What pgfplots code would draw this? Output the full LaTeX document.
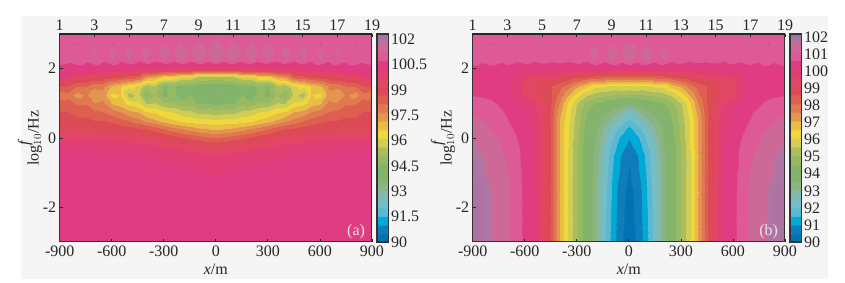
\documentclass[border=0pt]{standalone}
\usepackage{fontspec}
\setmainfont{Liberation Serif}
\usepackage{pgfplots}
\usepackage{pgfplotstable}
\pgfplotsset{compat=1.18}
\pgfplotstableread{
x y z
-900 -3 100.2
-850 -3 100.2
-800 -3 100.2
-750 -3 100.2
-700 -3 100.2
-650 -3 100.2
-600 -3 100.2
-550 -3 100.2
-500 -3 100.2
-450 -3 100.2
-400 -3 100.2
-350 -3 100.2
-300 -3 100.2
-250 -3 100.2
-200 -3 100.2
-150 -3 100.2
-100 -3 100.2
-50 -3 100.2
0 -3 100.2
-900 -1.5 100.2
-850 -1.5 100.2
-800 -1.5 100.2
-750 -1.5 100.2
-700 -1.5 100.2
-650 -1.5 100.2
-600 -1.5 100.2
-550 -1.5 100.2
-500 -1.5 100.2
-450 -1.5 100.2
-400 -1.5 100.2
-350 -1.5 100.2
-300 -1.5 100.2
-250 -1.5 100.2
-200 -1.5 100.2
-150 -1.5 100.2
-100 -1.5 100.2
-50 -1.5 100.2
0 -1.5 100.2
-900 -1 100.2
-850 -1 100.2
-800 -1 100.2
-750 -1 100.2
-700 -1 100.2
-650 -1 100.2
-600 -1 100.2
-550 -1 100.2
-500 -1 100.2
-450 -1 100.2
-400 -1 100.2
-350 -1 100.2
-300 -1 100.15
-250 -1 100.12
-200 -1 100.1
-150 -1 100.05
-100 -1 100.02
-50 -1 99.97
0 -1 99.95
-900 -0.5 100.1
-850 -0.5 100.1
-800 -0.5 100.1
-750 -0.5 100.08
-700 -0.5 100.05
-650 -0.5 100.04
-600 -0.5 100.02
-550 -0.5 100
-500 -0.5 99.98
-450 -0.5 99.95
-400 -0.5 99.93
-350 -0.5 99.9
-300 -0.5 99.85
-250 -0.5 99.8
-200 -0.5 99.75
-150 -0.5 99.7
-100 -0.5 99.6
-50 -0.5 99.5
0 -0.5 99.45
-900 -0.25 99.9
-850 -0.25 99.9
-800 -0.25 99.9
-750 -0.25 99.88
-700 -0.25 99.85
-650 -0.25 99.85
-600 -0.25 99.8
-550 -0.25 99.78
-500 -0.25 99.75
-450 -0.25 99.7
-400 -0.25 99.65
-350 -0.25 99.6
-300 -0.25 99.5
-250 -0.25 99.4
-200 -0.25 99.3
-150 -0.25 99.2
-100 -0.25 99.1
-50 -0.25 99.05
0 -0.25 99
-900 0 99.45
-850 0 99.45
-800 0 99.45
-750 0 99.4
-700 0 99.4
-650 0 99.4
-600 0 99.35
-550 0 99.3
-500 0 99.25
-450 0 99.2
-400 0 99.1
-350 0 99
-300 0 98.9
-250 0 98.8
-200 0 98.6
-150 0 98.4
-100 0 98.3
-50 0 98.1
0 0 98
-900 0.25 98.95
-850 0.25 98.95
-800 0.25 98.9
-750 0.25 98.9
-700 0.25 98.85
-650 0.25 98.8
-600 0.25 98.8
-550 0.25 98.75
-500 0.25 98.7
-450 0.25 98.6
-400 0.25 98.5
-350 0.25 98.3
-300 0.25 98
-250 0.25 97.7
-200 0.25 97.5
-150 0.25 97.3
-100 0.25 97.1
-50 0.25 97
0 0.25 96.9
-900 0.5 98.7
-850 0.5 98.7
-800 0.5 98.6
-750 0.5 98.6
-700 0.5 98.5
-650 0.5 98.5
-600 0.5 98.4
-550 0.5 98.2
-500 0.5 98
-450 0.5 97.7
-400 0.5 97.4
-350 0.5 97.1
-300 0.5 96.8
-250 0.5 96.6
-200 0.5 96.4
-150 0.5 96.3
-100 0.5 96.2
-50 0.5 96.2
0 0.5 96.1
-900 0.75 98.5
-850 0.75 98.5
-800 0.75 98.3
-750 0.75 98.3
-700 0.75 98.1
-650 0.75 98
-600 0.75 97.7
-550 0.75 97.5
-500 0.75 97.1
-450 0.75 97
-400 0.75 96.5
-350 0.75 96.4
-300 0.75 96.1
-250 0.75 96
-200 0.75 95.7
-150 0.75 95.6
-100 0.75 95.3
-50 0.75 95.3
0 0.75 95.2
-900 1 98.2
-850 1 98.2
-800 1 97.9
-750 1 97.9
-700 1 97.5
-650 1 97.6
-600 1 96.9
-550 1 96.7
-500 1 96.3
-450 1 96.1
-400 1 95.4
-350 1 95.5
-300 1 95
-250 1 95
-200 1 94.7
-150 1 94.8
-100 1 94.4
-50 1 94.5
0 1 94.2
-900 1.25 97.6
-850 1.25 97.8
-800 1.25 97.2
-750 1.25 97.6
-700 1.25 97
-650 1.25 97.3
-600 1.25 96.3
-550 1.25 96.5
-500 1.25 95.2
-450 1.25 95.7
-400 1.25 94.5
-350 1.25 95
-300 1.25 94.3
-250 1.25 94.7
-200 1.25 94.2
-150 1.25 94.5
-100 1.25 93.7
-50 1.25 94.3
0 1.25 93.4
-900 1.5 98.5
-850 1.5 98.5
-800 1.5 98
-750 1.5 98
-700 1.5 97.6
-650 1.5 97.6
-600 1.5 96.9
-550 1.5 96.6
-500 1.5 96.2
-450 1.5 95.9
-400 1.5 95.2
-350 1.5 95.3
-300 1.5 94.4
-250 1.5 94.6
-200 1.5 94.3
-150 1.5 94.4
-100 1.5 94.1
-50 1.5 94.2
0 1.5 94
-900 1.75 99.7
-850 1.75 99.6
-800 1.75 99.3
-750 1.75 99.2
-700 1.75 99
-650 1.75 98.9
-600 1.75 98.7
-550 1.75 98.6
-500 1.75 98.3
-450 1.75 98.2
-400 1.75 97.2
-350 1.75 97
-300 1.75 96.4
-250 1.75 96.4
-200 1.75 95.9
-150 1.75 95.8
-100 1.75 95.4
-50 1.75 95.4
0 1.75 95.2
-900 2 100.2
-850 2 100.2
-800 2 100.1
-750 2 100.1
-700 2 100
-650 2 100
-600 2 99.9
-550 2 99.9
-500 2 99.7
-450 2 99.7
-400 2 99.6
-350 2 99.6
-300 2 99.5
-250 2 99.5
-200 2 99.4
-150 2 99.4
-100 2 99.4
-50 2 99.4
0 2 99.4
-900 2.25 100.7
-850 2.25 100.6
-800 2.25 100.9
-750 2.25 100.6
-700 2.25 100.9
-650 2.25 100.6
-600 2.25 101
-550 2.25 100.6
-500 2.25 101
-450 2.25 100.6
-400 2.25 101
-350 2.25 100.6
-300 2.25 101
-250 2.25 100.7
-200 2.25 101.1
-150 2.25 100.7
-100 2.25 101.15
-50 2.25 100.7
0 2.25 101.2
-900 2.5 100.8
-850 2.5 100.8
-800 2.5 101
-750 2.5 100.8
-700 2.5 101.05
-650 2.5 100.8
-600 2.5 101.1
-550 2.5 100.8
-500 2.5 101.15
-450 2.5 100.8
-400 2.5 101.2
-350 2.5 100.85
-300 2.5 101.25
-250 2.5 100.85
-200 2.5 101.3
-150 2.5 100.9
-100 2.5 101.45
-50 2.5 101
0 2.5 101.55
-900 2.75 100.7
-850 2.75 100.7
-800 2.75 100.45
-750 2.75 100.7
-700 2.75 100.6
-650 2.75 100.7
-600 2.75 100.45
-550 2.75 100.7
-500 2.75 100.8
-450 2.75 100.7
-400 2.75 100.8
-350 2.75 100.7
-300 2.75 100.9
-250 2.75 100.7
-200 2.75 101
-150 2.75 100.7
-100 2.75 101.05
-50 2.75 100.7
0 2.75 101.1
-900 3 100.8
-850 3 100.8
-800 3 100.8
-750 3 100.8
-700 3 100.8
-650 3 100.8
-600 3 100.8
-550 3 100.8
-500 3 100.8
-450 3 100.8
-400 3 100.8
-350 3 100.8
-300 3 100.8
-250 3 100.8
-200 3 100.8
-150 3 100.8
-100 3 100.8
-50 3 100.8
0 3 100.8
}\dataA
\pgfplotstableread{
x y z
-900 -3 101.8
-850 -3 101.7
-800 -3 101.55
-750 -3 101.2
-700 -3 101.05
-650 -3 100.8
-600 -3 100.3
-550 -3 100.05
-500 -3 99.3
-450 -3 98.4
-400 -3 97
-350 -3 95.9
-300 -3 95
-250 -3 94.2
-200 -3 93.3
-150 -3 92.2
-100 -3 91.3
-50 -3 90.6
0 -3 90.2
-900 -1.5 101.8
-850 -1.5 101.7
-800 -1.5 101.5
-750 -1.5 101.2
-700 -1.5 101.05
-650 -1.5 100.8
-600 -1.5 100.3
-550 -1.5 100.05
-500 -1.5 99.3
-450 -1.5 98.4
-400 -1.5 97
-350 -1.5 95.9
-300 -1.5 95
-250 -1.5 94.2
-200 -1.5 93.3
-150 -1.5 92.3
-100 -1.5 91.4
-50 -1.5 90.7
0 -1.5 90.3
-900 -1 101.7
-850 -1 101.6
-800 -1 101.3
-750 -1 101.15
-700 -1 101
-650 -1 100.7
-600 -1 100.3
-550 -1 100
-500 -1 99.3
-450 -1 98.4
-400 -1 97
-350 -1 95.9
-300 -1 95
-250 -1 94.2
-200 -1 93.3
-150 -1 92.4
-100 -1 91.5
-50 -1 90.9
0 -1 90.4
-900 -0.5 101.6
-850 -0.5 101.5
-800 -0.5 101.2
-750 -0.5 101.1
-700 -0.5 100.9
-650 -0.5 100.6
-600 -0.5 100.3
-550 -0.5 100
-500 -0.5 99.3
-450 -0.5 98.4
-400 -0.5 97
-350 -0.5 95.9
-300 -0.5 95
-250 -0.5 94.2
-200 -0.5 93.4
-150 -0.5 92.5
-100 -0.5 91.6
-50 -0.5 91
0 -0.5 90.6
-900 -0.25 101.55
-850 -0.25 101.4
-800 -0.25 101.15
-750 -0.25 101.05
-700 -0.25 100.8
-650 -0.25 100.6
-600 -0.25 100.25
-550 -0.25 100
-500 -0.25 99.3
-450 -0.25 98.4
-400 -0.25 97
-350 -0.25 96
-300 -0.25 95
-250 -0.25 94.2
-200 -0.25 93.5
-150 -0.25 92.6
-100 -0.25 91.8
-50 -0.25 91.2
0 -0.25 90.8
-900 0 101.45
-850 0 101.3
-800 0 101.1
-750 0 100.95
-700 0 100.7
-650 0 100.5
-600 0 100.2
-550 0 99.95
-500 0 99.3
-450 0 98.4
-400 0 97
-350 0 96
-300 0 95.1
-250 0 94.3
-200 0 93.6
-150 0 92.8
-100 0 92
-50 0 91.4
0 0 91
-900 0.25 101.2
-850 0.25 101.15
-800 0.25 101
-750 0.25 100.85
-700 0.25 100.6
-650 0.25 100.4
-600 0.25 100.1
-550 0.25 99.9
-500 0.25 99.3
-450 0.25 98.4
-400 0.25 97
-350 0.25 96
-300 0.25 95.1
-250 0.25 94.4
-200 0.25 93.7
-150 0.25 93
-100 0.25 92.3
-50 0.25 91.8
0 0.25 91.3
-900 0.5 101.05
-850 0.5 101
-800 0.5 100.9
-750 0.5 100.7
-700 0.5 100.5
-650 0.5 100.3
-600 0.5 100.1
-550 0.5 99.9
-500 0.5 99.2
-450 0.5 98.4
-400 0.5 97
-350 0.5 96.1
-300 0.5 95.2
-250 0.5 94.5
-200 0.5 93.9
-150 0.5 93.3
-100 0.5 92.8
-50 0.5 92.3
0 0.5 91.8
-900 0.75 100.9
-850 0.75 100.9
-800 0.75 100.8
-750 0.75 100.6
-700 0.75 100.4
-650 0.75 100.2
-600 0.75 100.05
-550 0.75 99.8
-500 0.75 99.2
-450 0.75 98.4
-400 0.75 97.2
-350 0.75 96.2
-300 0.75 95.3
-250 0.75 94.6
-200 0.75 94.1
-150 0.75 93.7
-100 0.75 93.3
-50 0.75 92.9
0 0.75 92.4
-900 1 100.75
-850 1 100.7
-800 1 100.6
-750 1 100.4
-700 1 100.3
-650 1 100.1
-600 1 99.8
-550 1 99.5
-500 1 99.1
-450 1 98.5
-400 1 97.5
-350 1 96.4
-300 1 95.5
-250 1 94.9
-200 1 94.5
-150 1 94.3
-100 1 94.1
-50 1 93.8
0 1 93.5
-900 1.25 100.45
-850 1.25 100.4
-800 1.25 100.35
-750 1.25 100.3
-700 1.25 100.2
-650 1.25 99.8
-600 1.25 99.3
-550 1.25 99.1
-500 1.25 98.8
-450 1.25 98.5
-400 1.25 97.9
-350 1.25 97
-300 1.25 96.2
-250 1.25 95.6
-200 1.25 95.3
-150 1.25 95.1
-100 1.25 95
-50 1.25 94.9
0 1.25 94.9
-900 1.5 100.2
-850 1.5 100.2
-800 1.5 100.2
-750 1.5 100.2
-700 1.5 100.1
-650 1.5 99.8
-600 1.5 99.3
-550 1.5 99.2
-500 1.5 98.7
-450 1.5 98.5
-400 1.5 98.2
-350 1.5 97.8
-300 1.5 97.1
-250 1.5 96.7
-200 1.5 96.1
-150 1.5 96.1
-100 1.5 95.9
-50 1.5 96
0 1.5 95.9
-900 1.75 100.2
-850 1.75 100.2
-800 1.75 100.2
-750 1.75 100.15
-700 1.75 100.1
-650 1.75 99.9
-600 1.75 99.5
-550 1.75 99.4
-500 1.75 99.2
-450 1.75 99.2
-400 1.75 99.1
-350 1.75 98.9
-300 1.75 98.7
-250 1.75 98.5
-200 1.75 98.3
-150 1.75 98.2
-100 1.75 98.1
-50 1.75 98
0 1.75 98
-900 2 100.3
-850 2 100.3
-800 2 100.3
-750 2 100.3
-700 2 100.25
-650 2 100.2
-600 2 100.15
-550 2 100.1
-500 2 100.05
-450 2 100
-400 2 99.95
-350 2 99.9
-300 2 99.9
-250 2 99.9
-200 2 99.9
-150 2 99.9
-100 2 99.9
-50 2 99.9
0 2 99.9
-900 2.25 100.7
-850 2.25 100.55
-800 2.25 100.7
-750 2.25 100.55
-700 2.25 100.7
-650 2.25 100.55
-600 2.25 100.7
-550 2.25 100.55
-500 2.25 100.7
-450 2.25 100.6
-400 2.25 100.7
-350 2.25 100.6
-300 2.25 100.8
-250 2.25 100.6
-200 2.25 101
-150 2.25 100.65
-100 2.25 101.1
-50 2.25 100.7
0 2.25 101.2
-900 2.5 100.8
-850 2.5 100.8
-800 2.5 100.8
-750 2.5 100.8
-700 2.5 100.8
-650 2.5 100.8
-600 2.5 100.8
-550 2.5 100.8
-500 2.5 100.8
-450 2.5 100.8
-400 2.5 100.8
-350 2.5 100.8
-300 2.5 100.9
-250 2.5 100.8
-200 2.5 101.15
-150 2.5 100.8
-100 2.5 101.3
-50 2.5 100.9
0 2.5 101.55
-900 2.75 100.7
-850 2.75 100.7
-800 2.75 100.45
-750 2.75 100.7
-700 2.75 100.6
-650 2.75 100.7
-600 2.75 100.7
-550 2.75 100.7
-500 2.75 100.7
-450 2.75 100.7
-400 2.75 100.7
-350 2.75 100.7
-300 2.75 100.7
-250 2.75 100.7
-200 2.75 100.8
-150 2.75 100.7
-100 2.75 100.9
-50 2.75 100.7
0 2.75 101
-900 3 100.8
-850 3 100.8
-800 3 100.8
-750 3 100.8
-700 3 100.8
-650 3 100.8
-600 3 100.8
-550 3 100.8
-500 3 100.8
-450 3 100.8
-400 3 100.8
-350 3 100.8
-300 3 100.8
-250 3 100.8
-200 3 100.8
-150 3 100.8
-100 3 100.8
-50 3 100.8
0 3 100.8
}\dataB
\pgfplotsset{
 colormap={cm}{
 rgb255(0)=(0,115,180) rgb255(9)=(0,115,180)
 rgb255(10)=(15,125,185) rgb255(19)=(15,125,185)
 rgb255(20)=(0,170,215) rgb255(29)=(0,170,215)
 rgb255(30)=(90,185,210) rgb255(39)=(90,185,210)
 rgb255(40)=(115,190,200) rgb255(49)=(115,190,200)
 rgb255(50)=(130,185,170) rgb255(59)=(130,185,170)
 rgb255(60)=(140,180,130) rgb255(69)=(140,180,130)
 rgb255(70)=(130,180,110) rgb255(79)=(130,180,110)
 rgb255(80)=(130,180,105) rgb255(89)=(130,180,105)
 rgb255(90)=(150,185,100) rgb255(99)=(150,185,100)
 rgb255(100)=(170,190,95) rgb255(109)=(170,190,95)
 rgb255(110)=(210,205,85) rgb255(119)=(210,205,85)
 rgb255(120)=(240,215,60) rgb255(129)=(240,215,60)
 rgb255(130)=(232,190,70) rgb255(139)=(232,190,70)
 rgb255(140)=(226,150,80) rgb255(149)=(226,150,80)
 rgb255(150)=(224,120,80) rgb255(159)=(224,120,80)
 rgb255(160)=(222,95,80) rgb255(169)=(222,95,80)
 rgb255(170)=(220,75,85) rgb255(179)=(220,75,85)
 rgb255(180)=(225,70,100) rgb255(189)=(225,70,100)
 rgb255(190)=(226,62,118) rgb255(199)=(226,62,118)
 rgb255(200)=(224,60,130) rgb255(209)=(224,60,130)
 rgb255(210)=(222,90,150) rgb255(219)=(222,90,150)
 rgb255(220)=(205,105,150) rgb255(229)=(205,105,150)
 rgb255(230)=(178,118,165) rgb255(240)=(165,112,160)
 },
 panel/.style={
  scale only axis, width=312.3pt, height=208pt, anchor=south west,
  xmin=-900, xmax=900, ymin=-3, ymax=3,
  point meta min=90, point meta max=102,
  xtick={-900,-600,-300,0,300,600,900},
  xticklabels={-900,-600,-300,0,300,600,900},
  ytick={-2,0,2}, yticklabels={-2,0,2},
  xtick pos=bottom, ytick pos=left, tick align=inside,
  major tick length=3pt,
  tick style={draw=black!85, line width=0.8pt},
  axis line style={draw=black!80, line width=1pt},
  tick label style={font=\fontsize{16}{16}\selectfont, text=black!85},
  xlabel={\textit{x}/m}, ylabel={log$_{10}^{\textit{f}}$/Hz},
  label style={font=\fontsize{16}{16}\selectfont, text=black!85},
  xlabel style={yshift=-1pt},
  ylabel style={yshift=-6pt},
  axis on top, colorbar,
 },
 toppanel/.style={
  scale only axis, width=312.3pt, height=208pt, anchor=south west,
  xmin=1, xmax=19, ymin=-3, ymax=3,
  axis x line*=top, axis y line=none,
  xtick={1,3,...,19}, tick align=inside, major tick length=3pt,
  tick style={draw=black!85, line width=0.8pt},
  axis line style={draw=black!85, line width=1.8pt},
  tick label style={font=\fontsize{16}{16}\selectfont, text=black!85},
  /pgf/number format/assume math mode=true,
 },
}
\begin{document}
\begin{tikzpicture}[x=1pt,y=1pt]
\path[use as bounding box] (0,0) rectangle (845,283);
\fill[white] (0,0) rectangle (845,283);
\fill[black!4] (21,4) rectangle (828,267);
\begin{axis}[panel, at={(59.7pt,41pt)},
  colorbar style={
  at={(1.0160,0)}, anchor=south west, width=11.7pt,
  ytick={90,91.46,92.93,94.39,95.86,97.32,98.78,100.25,101.71},
  yticklabels={90,91.5,93,94.5,96,97.5,99,100.5,102},
  ytick pos=right, yticklabel pos=right,
  major tick length=0pt,
  axis line style={draw=black!80, line width=1.3pt},
  tick label style={font=\fontsize{16}{16}\selectfont, text=black!85},
  yticklabel style={xshift=-1pt},
 }]
\addplot[surf, shader=interp, mesh/cols=19, point meta=\thisrow{z}] table[x=x,y=y]{\dataA};
\addplot[surf, shader=interp, mesh/cols=19, point meta=\thisrow{z}] table[x expr=-\thisrow{x},y=y]{\dataA};
\node[text=white!90!black, font=\fontsize{16}{16}\selectfont, anchor=south east] at (axis cs:880,-3) {(a)};
\end{axis}
\begin{axis}[toppanel, at={(59.7pt,41pt)}]
\end{axis}
\begin{axis}[panel, at={(472.7pt,41pt)},
  colorbar style={
  at={(1.0160,0)}, anchor=south west, width=11.7pt,
  ytick={90,90.98,91.97,92.95,93.94,94.92,95.91,96.89,97.88,98.86,99.85,100.83,101.82},
  yticklabels={90,91,92,93,94,95,96,97,98,99,100,101,102},
  ytick pos=right, yticklabel pos=right,
  major tick length=0pt,
  axis line style={draw=black!80, line width=1.3pt},
  tick label style={font=\fontsize{16}{16}\selectfont, text=black!85},
  yticklabel style={xshift=-1pt},
 }]
\addplot[surf, shader=interp, mesh/cols=19, point meta=\thisrow{z}] table[x=x,y=y]{\dataB};
\addplot[surf, shader=interp, mesh/cols=19, point meta=\thisrow{z}] table[x expr=-\thisrow{x},y=y]{\dataB};
\node[text=white!90!black, font=\fontsize{16}{16}\selectfont, anchor=south east] at (axis cs:880,-3) {(b)};
\end{axis}
\begin{axis}[toppanel, at={(472.7pt,41pt)}]
\end{axis}
\end{tikzpicture}
\end{document}
